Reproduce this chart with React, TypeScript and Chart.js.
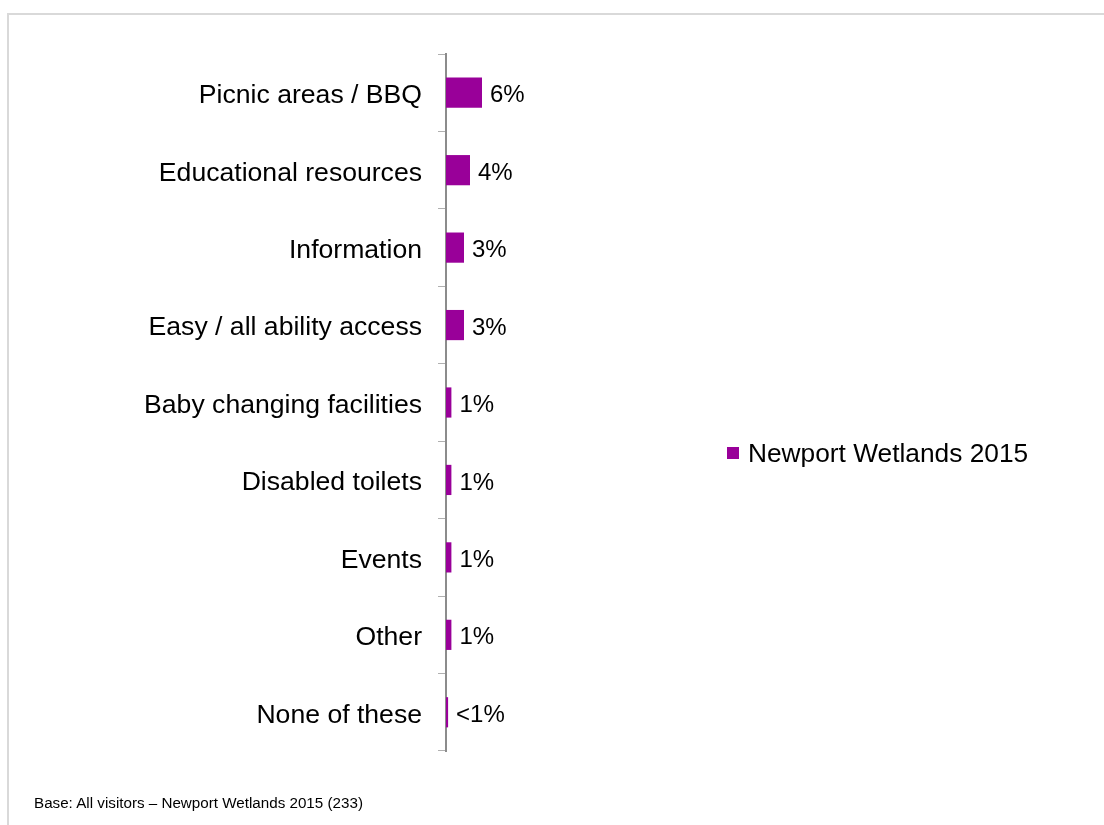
import React, { useEffect, useRef } from "react";
import { Chart, registerables } from "chart.js";

Chart.register(...registerables);

const categories = [
  "Picnic areas / BBQ",
  "Educational resources",
  "Information",
  "Easy / all ability access",
  "Baby changing facilities",
  "Disabled toilets",
  "Events",
  "Other",
  "None of these",
];
const values = [6, 4, 3, 3, 0.9, 0.9, 0.9, 0.9, 0.35];
const valueLabels = ["6%", "4%", "3%", "3%", "1%", "1%", "1%", "1%", "<1%"];
const seriesName = "Newport Wetlands 2015";
const footerText = "Base: All visitors \u2013 Newport Wetlands 2015 (233)";

const FONT = '"Liberation Sans", Arial, sans-serif';
const BAR_COLOR = "#990099";

const dataLabelPlugin = {
  id: "dataLabels",
  afterDatasetsDraw(chart: any) {
    const ctx = chart.ctx;
    const meta = chart.getDatasetMeta(0);
    ctx.save();
    ctx.font = `24px ${FONT}`;
    ctx.fillStyle = "#000";
    ctx.textAlign = "left";
    ctx.textBaseline = "middle";
    meta.data.forEach((bar: any, i: number) => {
      ctx.fillText(valueLabels[i], bar.x + 8, bar.y + 3);
    });
    ctx.restore();
  },
};

export default function App() {
  const canvasRef = useRef<HTMLCanvasElement | null>(null);

  useEffect(() => {
    if (!canvasRef.current) return;
    const chart = new Chart(canvasRef.current, {
      type: "bar",
      data: {
        labels: categories,
        datasets: [
          {
            label: seriesName,
            data: values,
            backgroundColor: BAR_COLOR,
            borderWidth: 0,
            barPercentage: 0.39,
            categoryPercentage: 1,
          },
        ],
      },
      options: {
        indexAxis: "y",
        responsive: false,
        animation: false,
        layout: { padding: { top: 54, bottom: 74, left: 0, right: 418 } },
        plugins: {
          legend: { display: false },
          tooltip: { enabled: false },
        },
        scales: {
          x: {
            display: false,
            min: 0,
            max: 40,
          },
          y: {
            afterFit(scale: any) {
              scale.width = 446;
            },
            grid: {
              drawOnChartArea: false,
              drawTicks: true,
              tickLength: 8,
              color: "#b0b0b0",
              offset: true,
            },
            border: { display: true, color: "#8c8c8c", width: 2 },
            ticks: {
              color: "#000",
              padding: 16,
              labelOffset: 3,
              font: { family: FONT, size: 26.6 },
            },
          },
        },
      },
      plugins: [dataLabelPlugin],
    });
    return () => chart.destroy();
  }, []);

  return (
    <div
      style={{
        position: "fixed",
        left: 0,
        top: 0,
        width: 1104,
        height: 825,
        overflow: "hidden",
        background: "#fff",
        fontFamily: FONT,
      }}
    >
      <div
        style={{
          position: "absolute",
          left: 7,
          top: 13,
          width: 1300,
          height: 1000,
          border: "2px solid #d9d9d9",
        }}
      />
      <canvas
        ref={canvasRef}
        width={1104}
        height={825}
        style={{ position: "absolute", left: 0, top: 0 }}
      />
      <div
        style={{
          position: "absolute",
          left: 727,
          top: 438,
          height: 30,
          display: "flex",
          alignItems: "center",
          whiteSpace: "nowrap",
        }}
      >
        <span
          style={{
            display: "inline-block",
            width: 12,
            height: 12,
            background: BAR_COLOR,
            marginRight: 9,
          }}
        />
        <span style={{ fontSize: 26.3, color: "#000" }}>{seriesName}</span>
      </div>
      <div
        style={{
          position: "absolute",
          left: 34,
          top: 794,
          fontSize: 15.2,
          lineHeight: "17px",
          color: "#000",
          whiteSpace: "nowrap",
        }}
      >
        {footerText}
      </div>
    </div>
  );
}
